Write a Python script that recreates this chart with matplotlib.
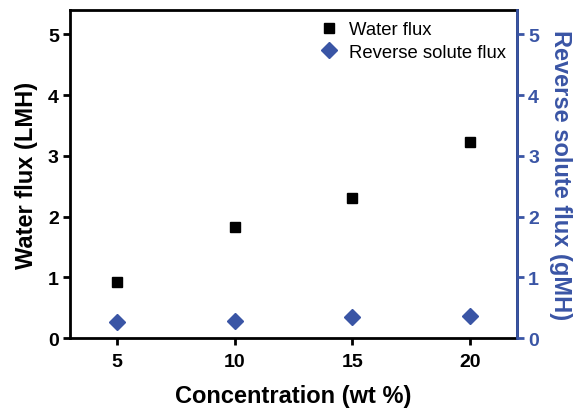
import matplotlib.pyplot as plt

plt.rcParams['font.family'] = ['Liberation Sans', 'DejaVu Sans']

concentration = [5, 10, 15, 20]
water_flux = [0.92, 1.83, 2.30, 3.22]
reverse_flux = [0.26, 0.28, 0.34, 0.36]

blue = '#3a55a5'

fig = plt.figure(figsize=(5.77, 4.10), dpi=100)
ax = fig.add_axes([0.1213, 0.173, 0.7747, 0.80])
ax2 = ax.twinx()

ax.plot(concentration, water_flux, 's', color='black', markersize=7.5,
        linestyle='none', label='Water flux')
ax2.plot(concentration, reverse_flux, 'D', color=blue, markersize=8.5,
         linestyle='none', label='Reverse solute flux')

ax.set_xlim(3, 22)
ax.set_ylim(0, 5.4)
ax2.set_ylim(0, 5.4)
ax.set_xticks(concentration)
ax.set_yticks(range(6))
ax2.set_yticks(range(6))

for a in (ax, ax2):
    for s in a.spines.values():
        s.set_linewidth(2)
ax2.spines['right'].set_color(blue)
ax2.spines['left'].set_visible(False)
ax2.spines['top'].set_visible(False)
ax2.spines['bottom'].set_visible(False)

ax.tick_params(axis='both', direction='out', length=5, width=2,
               labelsize=14, pad=3)
ax.tick_params(axis='x', pad=6)
ax2.tick_params(axis='y', direction='out', length=5, width=2,
                labelsize=14, colors=blue, pad=3)
for lab in ax.get_xticklabels() + ax.get_yticklabels() + ax2.get_yticklabels():
    lab.set_fontweight('bold')

ax.set_xlabel('Concentration (wt %)', fontsize=17, fontweight='bold', labelpad=10)
ax.set_ylabel('Water flux (LMH)', fontsize=17, fontweight='bold', labelpad=7)
ax2.set_ylabel('Reverse solute flux (gMH)', fontsize=17, fontweight='bold',
               color=blue, rotation=270, labelpad=24)

h1, l1 = ax.get_legend_handles_labels()
h2, l2 = ax2.get_legend_handles_labels()
ax2.legend(h1 + h2, l1 + l2, loc='upper right', frameon=False, fontsize=13.3,
           handletextpad=0.5, borderaxespad=0.2, labelspacing=0.3,
           handlelength=1.2, bbox_to_anchor=(1.0, 1.0))

fig.savefig('out.png', dpi=100)
